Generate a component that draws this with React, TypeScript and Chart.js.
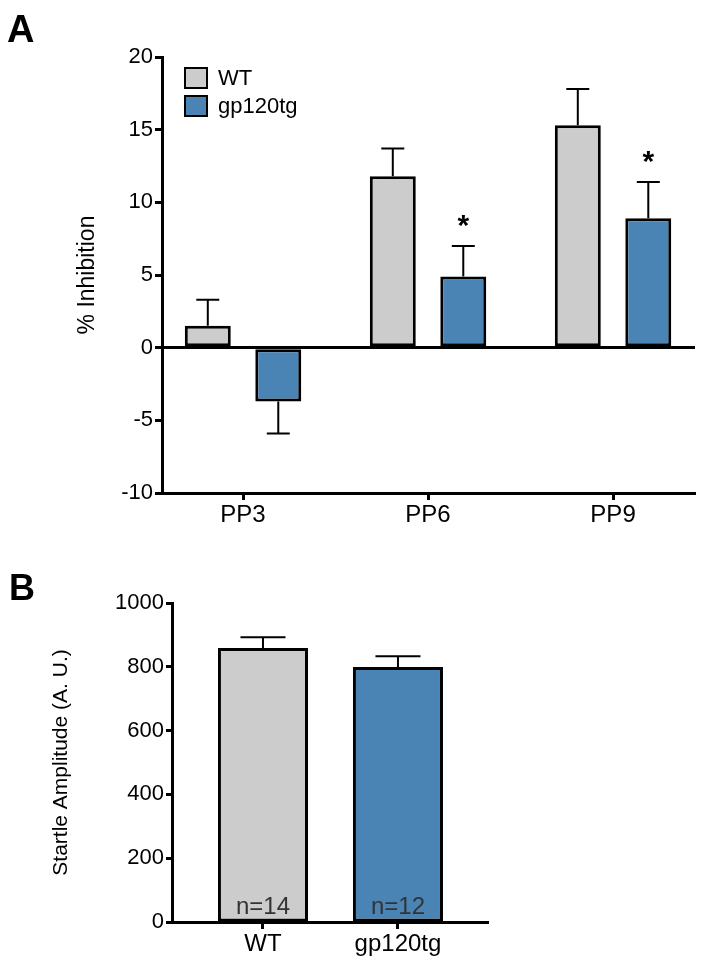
import React, { useEffect, useRef } from 'react';
import { Chart, registerables } from 'chart.js';

Chart.register(...registerables);

const FONT = '"Liberation Sans", Arial, Helvetica, sans-serif';

// ---- Panel A data ----
const ppCategories = ['PP3', 'PP6', 'PP9'];
const wtInhibition = [1.5, 11.8, 15.3];
const wtInhibitionSem = [1.8, 1.9, 2.5];
const gpInhibition = [-3.7, 4.9, 8.9];
const gpInhibitionSem = [2.2, 2.1, 2.5];
const gpSignificance = ['', '*', '*'];
const seriesLabels = ['WT', 'gp120tg'];

// ---- Panel B data ----
const startleGroups = ['WT', 'gp120tg'];
const startleMeans = [859, 799];
const startleSem = [34, 34];
const startleN = ['n=14', 'n=12'];

const WT_COLOR = '#cccccc';
const GP_COLOR = '#4a84b5';

const errorBarPlugin = {
  id: 'errorBars',
  afterDatasetsDraw(chart: any) {
    const ctx = chart.ctx;
    const yScale = chart.scales.y;
    chart.data.datasets.forEach((ds: any, di: number) => {
      const errs = ds.errors;
      if (!errs) return;
      const meta = chart.getDatasetMeta(di);
      meta.data.forEach((bar: any, i: number) => {
        const v = ds.data[i].y;
        const e = errs[i];
        const end = v >= 0 ? v + e : v - e;
        const y0 = yScale.getPixelForValue(v);
        const y1 = yScale.getPixelForValue(end);
        const half = bar.width / 4;
        ctx.save();
        ctx.strokeStyle = '#000';
        ctx.lineWidth = 2;
        ctx.beginPath();
        ctx.moveTo(bar.x, y0);
        ctx.lineTo(bar.x, y1);
        ctx.moveTo(bar.x - half, y1);
        ctx.lineTo(bar.x + half, y1);
        ctx.stroke();
        if (ds.marks && ds.marks[i]) {
          ctx.fillStyle = '#000';
          ctx.font = `bold 30px ${FONT}`;
          ctx.textAlign = 'center';
          ctx.textBaseline = 'alphabetic';
          ctx.fillText(ds.marks[i], bar.x, y1 - 11);
        }
        if (ds.nLabels && ds.nLabels[i]) {
          ctx.fillStyle = '#333333';
          ctx.font = `24px ${FONT}`;
          ctx.textAlign = 'center';
          ctx.textBaseline = 'alphabetic';
          ctx.fillText(ds.nLabels[i], bar.x, yScale.getPixelForValue(0) - 8);
        }
        ctx.restore();
      });
    });
  },
};

const panelLabelPlugin = {
  id: 'panelLabel',
  afterDraw(chart: any) {
    const opts = chart.options.plugins.panelLabel;
    if (!opts) return;
    const ctx = chart.ctx;
    ctx.save();
    ctx.fillStyle = '#000';
    ctx.font = `bold ${opts.size}px ${FONT}`;
    ctx.textAlign = 'left';
    ctx.textBaseline = 'alphabetic';
    ctx.fillText(opts.text, opts.x, opts.y);
    ctx.restore();
  },
};

const boxLegendPlugin = {
  id: 'boxLegend',
  afterDraw(chart: any) {
    const opts = chart.options.plugins.boxLegend;
    if (!opts) return;
    const ctx = chart.ctx;
    const area = chart.chartArea;
    ctx.save();
    chart.data.datasets.forEach((ds: any, i: number) => {
      const x = area.left + opts.offsetX;
      const y = area.top + opts.offsetY + i * opts.rowHeight;
      ctx.fillStyle = ds.backgroundColor;
      ctx.fillRect(x, y, opts.boxW, opts.boxH);
      ctx.strokeStyle = '#000';
      ctx.lineWidth = 2;
      ctx.strokeRect(x, y, opts.boxW, opts.boxH);
      ctx.fillStyle = '#000';
      ctx.font = `22px ${FONT}`;
      ctx.textAlign = 'left';
      ctx.textBaseline = 'middle';
      ctx.fillText(ds.label, x + opts.boxW + 11, y + opts.boxH / 2 + 1);
    });
    ctx.restore();
  },
};

function PanelA() {
  const ref = useRef<HTMLCanvasElement>(null);
  useEffect(() => {
    const chart = new Chart(ref.current as HTMLCanvasElement, {
      type: 'bar',
      data: {
        datasets: [
          {
            label: seriesLabels[0],
            data: wtInhibition.map((v, i) => ({ x: i, y: v })),
            backgroundColor: WT_COLOR,
            borderColor: '#000',
            borderWidth: 3,
            borderSkipped: false,
            errors: wtInhibitionSem,
          } as any,
          {
            label: seriesLabels[1],
            data: gpInhibition.map((v, i) => ({ x: i, y: v })),
            backgroundColor: GP_COLOR,
            borderColor: '#000',
            borderWidth: 3,
            borderSkipped: false,
            errors: gpInhibitionSem,
            marks: gpSignificance,
          } as any,
        ],
      },
      options: {
        responsive: false,
        animation: false,
        devicePixelRatio: 1,
        layout: { padding: { top: 57, right: 9, left: 0, bottom: 0 } },
        datasets: { bar: { categoryPercentage: 0.762, barPercentage: 0.652 } },
        plugins: {
          legend: { display: false },
          tooltip: { enabled: false },
          panelLabel: { text: 'A', x: 7, y: 42, size: 38 },
          boxLegend: { offsetX: 23, offsetY: 11, rowHeight: 28, boxW: 22, boxH: 20 },
        } as any,
        scales: {
          x: {
            type: 'linear',
            offset: false,
            min: -0.438,
            max: 2.443,
            afterBuildTicks: (s: any) => {
              s.ticks = ppCategories.map((_, i) => ({ value: i }));
            },
            afterFit: (s: any) => {
              s.height = 52;
            },
            ticks: {
              autoSkip: false,
              maxRotation: 0,
              padding: 1,
              color: '#000',
              font: { family: FONT, size: 24 },
              callback: (v: any) => ppCategories[v] ?? '',
            },
            grid: { offset: false, drawOnChartArea: false, drawTicks: true, tickLength: 7, tickColor: '#000', tickWidth: 3 },
            border: { display: true, color: '#000', width: 3 },
          },
          y: {
            type: 'linear',
            min: -10,
            max: 20,
            afterFit: (s: any) => {
              s.width = 162;
            },
            ticks: {
              stepSize: 5,
              padding: 2,
              color: '#000',
              font: { family: FONT, size: 22 },
              callback: (v: any) => String(v),
            },
            grid: {
              drawOnChartArea: true,
              drawTicks: true,
              tickLength: 7,
              tickColor: '#000',
              tickWidth: 3,
              color: (c: any) => (c.tick && c.tick.value === 0 ? '#000' : 'rgba(0,0,0,0)'),
              lineWidth: 3,
            },
            border: { display: true, color: '#000', width: 3 },
            title: {
              display: true,
              text: '% Inhibition',
              color: '#000',
              font: { family: FONT, size: 23 },
              padding: { top: 74, bottom: 0 },
            },
          },
        },
      },
      plugins: [errorBarPlugin, panelLabelPlugin, boxLegendPlugin],
    } as any);
    return () => chart.destroy();
  }, []);
  return (
    <canvas
      ref={ref}
      width={704}
      height={545}
      style={{ position: 'absolute', left: 0, top: 0, width: 704, height: 545 }}
    />
  );
}

function PanelB() {
  const ref = useRef<HTMLCanvasElement>(null);
  useEffect(() => {
    const chart = new Chart(ref.current as HTMLCanvasElement, {
      type: 'bar',
      data: {
        datasets: [
          {
            label: 'Startle',
            data: startleMeans.map((v, i) => ({ x: i, y: v })),
            backgroundColor: [WT_COLOR, GP_COLOR],
            borderColor: '#000',
            borderWidth: 3,
            borderSkipped: false,
            errors: startleSem,
            nLabels: startleN,
          } as any,
        ],
      },
      options: {
        responsive: false,
        animation: false,
        devicePixelRatio: 1,
        layout: { padding: { top: 43, right: 216, left: 0, bottom: 0 } },
        datasets: { bar: { categoryPercentage: 1, barPercentage: 0.667 } },
        plugins: {
          legend: { display: false },
          tooltip: { enabled: false },
          panelLabel: { text: 'B', x: 9, y: 40, size: 36 },
        } as any,
        scales: {
          x: {
            type: 'linear',
            offset: false,
            min: -0.674,
            max: 1.667,
            afterBuildTicks: (s: any) => {
              s.ticks = startleGroups.map((_, i) => ({ value: i }));
            },
            afterFit: (s: any) => {
              s.height = 41;
            },
            ticks: {
              autoSkip: false,
              maxRotation: 0,
              padding: 1,
              color: '#000',
              font: { family: FONT, size: 24 },
              callback: (v: any) => startleGroups[v] ?? '',
            },
            grid: { offset: false, drawOnChartArea: false, drawTicks: true, tickLength: 7, tickColor: '#000', tickWidth: 3 },
            border: { display: true, color: '#000', width: 3 },
          },
          y: {
            type: 'linear',
            min: 0,
            max: 1000,
            afterFit: (s: any) => {
              s.width = 172;
            },
            ticks: {
              stepSize: 200,
              padding: 2,
              color: '#000',
              font: { family: FONT, size: 22 },
              callback: (v: any) => String(v),
            },
            grid: { drawOnChartArea: false, drawTicks: true, tickLength: 6, tickColor: '#000', tickWidth: 3 },
            border: { display: true, color: '#000', width: 3 },
            title: {
              display: true,
              text: 'Startle Amplitude (A. U.)',
              color: '#000',
              font: { family: FONT, size: 21 },
              padding: { top: 49, bottom: 0 },
            },
          },
        },
      },
      plugins: [errorBarPlugin, panelLabelPlugin],
    } as any);
    return () => chart.destroy();
  }, []);
  return (
    <canvas
      ref={ref}
      width={704}
      height={403}
      style={{ position: 'absolute', left: 0, top: 560, width: 704, height: 403 }}
    />
  );
}

export default function App() {
  return (
    <div style={{ position: 'absolute', left: 0, top: 0, width: 704, height: 963, background: '#fff' }}>
      <PanelA />
      <PanelB />
    </div>
  );
}
